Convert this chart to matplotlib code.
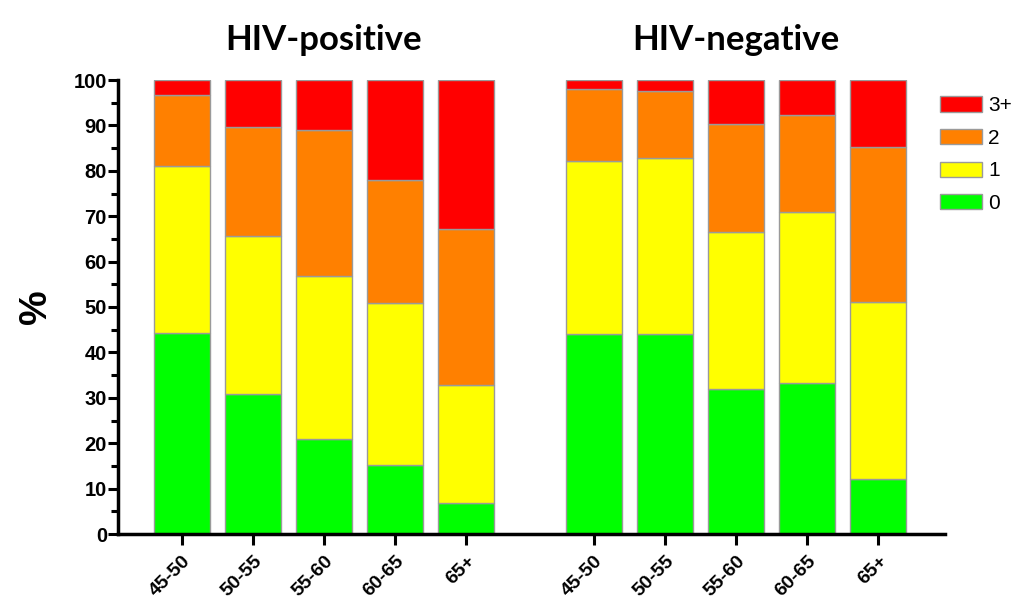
import numpy as np
import matplotlib
matplotlib.use("Agg")
import matplotlib.pyplot as plt
from matplotlib.ticker import MultipleLocator
from matplotlib.transforms import blended_transform_factory

# --- data (percent of each age group) ---
groups = ["HIV-positive", "HIV-negative"]
ages = ["45-50", "50-55", "55-60", "60-65", "65+"]
levels = ["0", "1", "2", "3+"]
colors = ["#00FF00", "#FFFF00", "#FF8000", "#FF0000"]

pos_0 = [44.3, 30.8, 20.9, 15.2, 6.8]
pos_1 = [36.8, 34.8, 35.9, 35.7, 26.0]
pos_2 = [15.6, 24.0, 32.2, 27.1, 34.4]
pos_3 = [3.3, 10.4, 11.0, 22.0, 32.8]

neg_0 = [44.1, 44.1, 31.9, 33.3, 12.1]
neg_1 = [38.1, 38.7, 34.6, 37.6, 39.0]
neg_2 = [15.8, 14.8, 23.8, 21.4, 34.1]
neg_3 = [2.0, 2.4, 9.7, 7.7, 14.8]

plt.rcParams['font.family'] = ['Liberation Sans', 'DejaVu Sans']

fig = plt.figure(figsize=(10.24, 6.02), dpi=100)
ax = fig.add_axes([118 / 1024, 1 - 534 / 602, 827 / 1024, 454 / 602])

gap = 5.8
xpos = [np.arange(len(ages)), np.arange(len(ages)) + gap]
data = [[pos_0, pos_1, pos_2, pos_3], [neg_0, neg_1, neg_2, neg_3]]

handles = []
for g in range(2):
    bottom = np.zeros(len(ages))
    for k, vals in enumerate(data[g]):
        b = ax.bar(xpos[g], vals, width=0.79, bottom=bottom, color=colors[k],
                   edgecolor="#9a9a9a", linewidth=1.0, label=levels[k], zorder=2)
        bottom += np.array(vals)
        if g == 0:
            handles.append(b)

ax.set_xlim(-0.9, 10.74)
ax.set_ylim(0, 100)

for s in ["top", "right"]:
    ax.spines[s].set_visible(False)
for s in ["left", "bottom"]:
    ax.spines[s].set_linewidth(2.5)
    ax.spines[s].set_clip_on(False)

ax.yaxis.set_major_locator(MultipleLocator(10))
ax.yaxis.set_minor_locator(MultipleLocator(5))
ax.tick_params(axis="y", which="major", length=7, width=2.2, labelsize=14.5, pad=1)
ax.tick_params(axis="y", which="minor", length=5, width=2.2)
for lab in ax.get_yticklabels():
    lab.set_fontweight("bold")

ax.set_xticks(np.concatenate(xpos))
ax.set_xticklabels(ages * 2, rotation=45, ha="right", rotation_mode="anchor",
                   fontsize=14, fontweight="bold")
ax.tick_params(axis="x", length=8, width=2.2, pad=5)

ax.set_ylabel("%", fontsize=28, fontweight="bold", labelpad=14)

trans = blended_transform_factory(ax.transData, fig.transFigure)
for g in range(2):
    ax.text(xpos[g].mean(), 1 - 40 / 602, groups[g], transform=trans,
            ha="center", va="center", fontsize=25, fontweight="bold",
            family=["Lato", "DejaVu Sans"])

leg = fig.legend(handles[::-1], levels[::-1], loc="upper left",
                 bbox_to_anchor=(932 / 1024, 1 - 88 / 602), frameon=False,
                 fontsize=15, handlelength=2.0, handleheight=0.75,
                 labelspacing=0.65, handletextpad=0.3, borderaxespad=0)

fig.savefig("out.png", dpi=100)
